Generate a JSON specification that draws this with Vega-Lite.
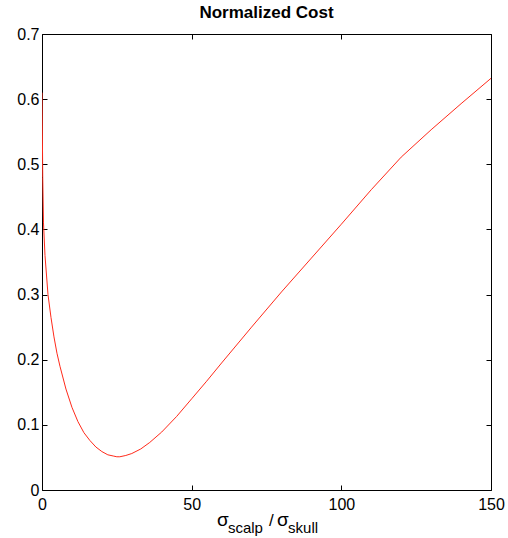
{
  "$schema": "https://vega.github.io/schema/vega-lite/v6.json",
  "width": 449,
  "height": 456,
  "autosize": {"type": "none"},
  "padding": {"left": 42, "top": 34, "right": 17, "bottom": 48},
  "background": "white",
  "config": {
    "view": {"stroke": null},
    "font": "Liberation Sans",
    "axis": {
      "domainColor": "black",
      "domainWidth": 1,
      "tickColor": "black",
      "grid": false,
      "labelFont": "Liberation Sans",
      "labelFontSize": 16,
      "labelColor": "black"
    },
    "text": {"font": "Liberation Sans", "fontWeight": "normal", "color": "black"}
  },
  "title": {
    "text": "Normalized Cost",
    "fontSize": 17,
    "fontWeight": "bold",
    "font": "Liberation Sans",
    "anchor": "middle",
    "offset": 4,
    "color": "black"
  },
  "datasets": {
    "cost": [
      {"ratio": 0, "cost": 0.61},
      {"ratio": 0.25, "cost": 0.48},
      {"ratio": 0.5, "cost": 0.41},
      {"ratio": 1, "cost": 0.36},
      {"ratio": 1.5, "cost": 0.33},
      {"ratio": 2, "cost": 0.3},
      {"ratio": 3, "cost": 0.265},
      {"ratio": 4, "cost": 0.235},
      {"ratio": 5, "cost": 0.21},
      {"ratio": 6, "cost": 0.19},
      {"ratio": 8, "cost": 0.155},
      {"ratio": 10, "cost": 0.127},
      {"ratio": 12, "cost": 0.105},
      {"ratio": 14, "cost": 0.088},
      {"ratio": 16, "cost": 0.076},
      {"ratio": 18, "cost": 0.066},
      {"ratio": 20, "cost": 0.059},
      {"ratio": 22, "cost": 0.054},
      {"ratio": 24, "cost": 0.052},
      {"ratio": 25, "cost": 0.051},
      {"ratio": 26, "cost": 0.051},
      {"ratio": 28, "cost": 0.053},
      {"ratio": 30, "cost": 0.056},
      {"ratio": 33, "cost": 0.063},
      {"ratio": 36, "cost": 0.073},
      {"ratio": 40, "cost": 0.089},
      {"ratio": 45, "cost": 0.113},
      {"ratio": 50, "cost": 0.14},
      {"ratio": 55, "cost": 0.167},
      {"ratio": 60, "cost": 0.195},
      {"ratio": 70, "cost": 0.25},
      {"ratio": 80, "cost": 0.304},
      {"ratio": 90, "cost": 0.356},
      {"ratio": 100, "cost": 0.408},
      {"ratio": 110, "cost": 0.461},
      {"ratio": 120, "cost": 0.511},
      {"ratio": 130, "cost": 0.553},
      {"ratio": 140, "cost": 0.593},
      {"ratio": 150, "cost": 0.632}
    ],
    "one": [{"k": 1}]
  },
  "resolve": {"axis": {"x": "independent", "y": "independent"}},
  "layer": [
    {
      "data": {"name": "cost"},
      "mark": {"type": "line", "color": "#ff2a1a", "strokeWidth": 1, "clip": true},
      "encoding": {
        "x": {
          "field": "ratio", "type": "quantitative",
          "scale": {"domain": [0, 150], "nice": false, "zero": false},
          "axis": {"orient": "bottom", "values": [0, 50, 100, 150], "tickSize": -5, "labelPadding": 11, "title": null, "labelFlush": false}
        },
        "y": {
          "field": "cost", "type": "quantitative",
          "scale": {"domain": [0, 0.7], "nice": false},
          "axis": {"orient": "left", "values": [0, 0.1, 0.2, 0.3, 0.4, 0.5, 0.6, 0.7], "format": ".1~f", "tickSize": -5, "labelPadding": 8, "title": null, "labelFlush": false}
        }
      }
    },
    {
      "data": {"name": "cost"},
      "mark": {"type": "line", "opacity": 0},
      "encoding": {
        "x": {
          "field": "ratio", "type": "quantitative",
          "axis": {"orient": "top", "values": [0, 50, 100, 150], "tickSize": -5, "labels": false, "title": null}
        },
        "y": {
          "field": "cost", "type": "quantitative",
          "axis": {"orient": "right", "values": [0, 0.1, 0.2, 0.3, 0.4, 0.5, 0.6, 0.7], "tickSize": -5, "labels": false, "title": null}
        }
      }
    },
    {
      "data": {"name": "one"},
      "mark": {"type": "text", "text": "σ", "align": "left", "baseline": "alphabetic", "fontSize": 19, "dy": 36},
      "encoding": {"x": {"datum": 58.5, "type": "quantitative", "axis": null}, "y": {"datum": 0, "type": "quantitative", "axis": null}}
    },
    {
      "data": {"name": "one"},
      "mark": {"type": "text", "text": "scalp", "align": "left", "baseline": "alphabetic", "fontSize": 15, "dy": 43},
      "encoding": {"x": {"datum": 62.1, "type": "quantitative", "axis": null}, "y": {"datum": 0, "type": "quantitative", "axis": null}}
    },
    {
      "data": {"name": "one"},
      "mark": {"type": "text", "text": "/", "align": "left", "baseline": "alphabetic", "fontSize": 17, "dy": 36},
      "encoding": {"x": {"datum": 75.8, "type": "quantitative", "axis": null}, "y": {"datum": 0, "type": "quantitative", "axis": null}}
    },
    {
      "data": {"name": "one"},
      "mark": {"type": "text", "text": "σ", "align": "left", "baseline": "alphabetic", "fontSize": 19, "dy": 36},
      "encoding": {"x": {"datum": 78.5, "type": "quantitative", "axis": null}, "y": {"datum": 0, "type": "quantitative", "axis": null}}
    },
    {
      "data": {"name": "one"},
      "mark": {"type": "text", "text": "skull", "align": "left", "baseline": "alphabetic", "fontSize": 15, "dy": 43},
      "encoding": {"x": {"datum": 82.2, "type": "quantitative", "axis": null}, "y": {"datum": 0, "type": "quantitative", "axis": null}}
    }
  ]
}
